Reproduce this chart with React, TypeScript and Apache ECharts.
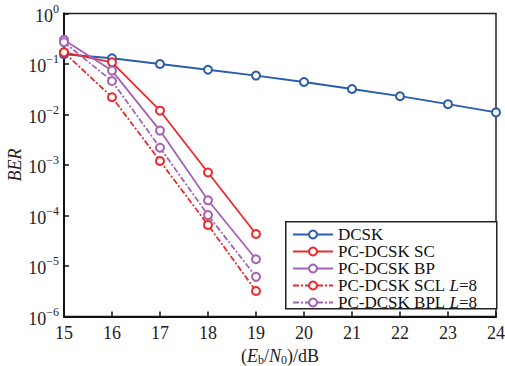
import React, { useEffect, useRef } from "react";
import * as echarts from "echarts";

const snr = [15, 16, 17, 18, 19, 20, 21, 22, 23, 24];
const dcsk = [0.156, 0.13, 0.1, 0.077, 0.059, 0.044, 0.032, 0.023, 0.016, 0.011];
const pcSC = [0.17, 0.108, 0.0119, 7.1e-4, 4.3e-5];
const pcBP = [0.3, 0.074, 0.0048, 2.0e-4, 1.36e-5];
const pcSCL = [0.17, 0.022, 1.2e-3, 6.5e-5, 3.2e-6];
const pcBPL = [0.27, 0.046, 2.2e-3, 1.02e-4, 6.1e-6];
const seriesNames = ["DCSK", "PC-DCSK SC", "PC-DCSK BP", "PC-DCSK SCL L=8", "PC-DCSK BPL L=8"];
const yTitle = "BER";

const BLUE = "#2b5cab";
const RED = "#ec2a2e";
const PURPLE = "#a462b6";
const FONT = "'Liberation Serif', 'Times New Roman', serif";

export default function App() {
  const ref = useRef<HTMLDivElement>(null);
  useEffect(() => {
    const chart = echarts.init(ref.current!, null, { renderer: "svg" });
    const pair = (ys: number[]) => ys.map((y, i) => [snr[i], y]);
    const mk = (name: string, data: number[], color: string, dashed: boolean) => ({
      name,
      type: "line",
      data: pair(data),
      symbol: "emptyCircle",
      symbolSize: 8,
      itemStyle: { color, borderWidth: 1.5 },
      lineStyle: { color, width: 1.8, type: dashed ? [6, 2, 2, 2] : "solid" },
    });
    chart.setOption({
      animation: false,
      backgroundColor: "#fff",
      grid: {
        left: 64,
        right: 9,
        top: 13.5,
        bottom: 49.5,
        outerBoundsMode: "none",
        containLabel: false,
        show: true,
        borderColor: "#222",
        borderWidth: 1.5,
        backgroundColor: "transparent",
      },
      graphic: [
        {
          type: "rect",
          left: 285,
          top: 221,
          z: 50,
          shape: { width: 211, height: 87 },
          style: { fill: "#fff", stroke: "#222", lineWidth: 1.5 },
        },
        {
          type: "text",
          x: 15,
          y: 165,
          rotation: Math.PI / 2,
          style: {
            text: yTitle,
            font: "italic 18px " + FONT,
            fill: "#222",
            align: "center",
            verticalAlign: "middle",
          },
        },
      ],
      legend: {
        orient: "vertical",
        left: 292,
        top: 226,
        z: 60,
        itemWidth: 40,
        itemHeight: 10,
        itemGap: 0,
        padding: 0,
        data: seriesNames,
        formatter: (n: string) => n.replace("L=8", "{i|L}=8"),
        textStyle: {
          fontFamily: FONT,
          fontSize: 17,
          color: "#111",
          lineHeight: 17,
          rich: { i: { fontFamily: FONT, fontSize: 17, fontStyle: "italic", color: "#111", lineHeight: 17 } },
        },
      },
      xAxis: {
        type: "value",
        min: 15,
        max: 24,
        interval: 1,
        splitLine: { show: false },
        axisLine: { lineStyle: { color: "#111", width: 2 } },
        axisTick: { inside: true, length: 5, lineStyle: { color: "#111", width: 1.5 } },
        axisLabel: { fontFamily: FONT, fontSize: 18, color: "#222", margin: 7 },
        name: "({it|E}{sub|b}/{it|N}{sub|0})/dB",
        nameLocation: "middle",
        nameGap: 29,
        nameTextStyle: {
          fontFamily: FONT,
          fontSize: 18,
          color: "#222",
          lineHeight: 20,
          rich: {
            it: { fontFamily: FONT, fontSize: 18, fontStyle: "italic", color: "#222", lineHeight: 20 },
            sub: { fontFamily: FONT, fontSize: 12, color: "#222", lineHeight: 15, verticalAlign: "bottom" },
          },
        },
      },
      yAxis: {
        type: "log",
        logBase: 10,
        min: 1e-6,
        max: 1,
        splitLine: { show: false },
        minorTick: { show: false },
        axisLine: { lineStyle: { color: "#111", width: 2 } },
        axisTick: { inside: true, length: 5, lineStyle: { color: "#111", width: 1.5 } },
        axisLabel: {
          margin: 5,
          fontFamily: FONT,
          fontSize: 18,
          color: "#222",
          formatter: (v: number) => {
            const e = Math.round(Math.log10(v));
            return "{b|10}{s|" + (e < 0 ? "\u2212" + -e : String(e)) + "}";
          },
          rich: {
            b: { fontFamily: FONT, fontSize: 18, color: "#222", lineHeight: 22, verticalAlign: "bottom" },
            s: { fontFamily: FONT, fontSize: 12, color: "#222", lineHeight: 22, verticalAlign: "top" },
          },
        },
      },
      series: [
        mk(seriesNames[0], dcsk, BLUE, false),
        mk(seriesNames[1], pcSC, RED, false),
        mk(seriesNames[2], pcBP, PURPLE, false),
        mk(seriesNames[3], pcSCL, RED, true),
        mk(seriesNames[4], pcBPL, PURPLE, true),
      ],
    });
    return () => chart.dispose();
  }, []);
  return <div ref={ref} style={{ width: 505, height: 366, position: "absolute", left: 0, top: 0 }} />;
}
